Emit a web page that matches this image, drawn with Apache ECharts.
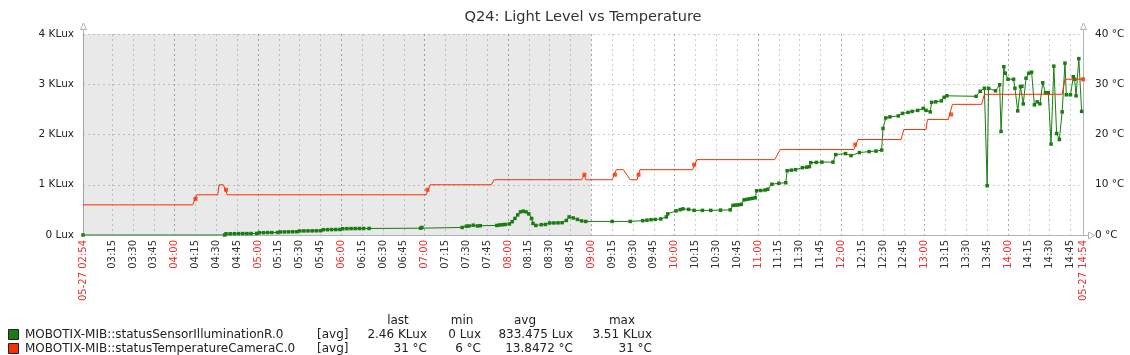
<!DOCTYPE html>
<html><head><meta charset="utf-8">
<script src="https://cdn.jsdelivr.net/npm/echarts@6/dist/echarts.min.js"></script>
<style>html,body{margin:0;padding:0;background:#fff}#c{width:1130px;height:355px}</style>
</head><body><div id="c"></div>
<script>
const chartTitle = 'Q24: Light Level vs Temperature';
const rangeStart = '02:54';
const rangeEnd = '14:54';
const startLabel = '05-27 02:54';
const endLabel = '05-27 14:54';
const shadeStart = '02:54';
const shadeEnd = '09:00';

const tickTimes = ['02:54','03:15','03:30','03:45','04:00','04:15','04:30','04:45','05:00','05:15','05:30','05:45',
  '06:00','06:15','06:30','06:45','07:00','07:15','07:30','07:45','08:00','08:15','08:30','08:45',
  '09:00','09:15','09:30','09:45','10:00','10:15','10:30','10:45','11:00','11:15','11:30','11:45',
  '12:00','12:15','12:30','12:45','13:00','13:15','13:30','13:45','14:00','14:15','14:30','14:45','14:54'];

const luxTicks = [0, 1000, 2000, 3000, 4000];
const tempTicks = [0, 10, 20, 30, 40];

// Illumination (Lux)
const lightData = [['02:54',0],['04:36',0],['04:37',25],['04:40',25],['04:43',26],['04:46',27],['04:49',28],['04:52',28],
  ['04:55',29],['04:59',30],['05:01',45],['05:04',46],['05:07',48],['05:10',49],['05:14',50],['05:16',60],['05:19',61],
  ['05:22',62],['05:25',64],['05:28',65],['05:30',80],['05:33',81],['05:36',82],['05:39',83],['05:42',84],['05:45',85],
  ['05:47',105],['05:50',106],['05:53',108],['05:56',109],['05:59',110],['06:01',125],['06:04',126],['06:07',127],
  ['06:10',128],['06:13',129],['06:16',130],['06:20',130],['06:57',135],['06:58',150],
  ['07:27',150],['07:30',175],['07:32',180],['07:35',195],['07:38',180],['07:40',185],['07:52',190],['07:54',200],['07:56',205],['07:58',210],['08:01',220],
  ['08:03',265],['08:05',330],['08:07',400],['08:09',460],['08:11',475],['08:13',460],['08:15',420],['08:17',330],
  ['08:18',230],['08:20',190],['08:24',205],['08:27',210],['08:30',240],['08:33',240],['08:36',242],['08:39',245],['08:42',290],['08:44',360],
  ['08:47',340],['08:50',310],['08:53',280],['08:56',270],['09:15',270],['09:28',270],['09:37',285],['09:40',295],
  ['09:43',305],['09:46',310],['09:50',320],['09:54',360],['09:55',420],['10:01',480],['10:04',505],['10:06',520],['10:10',510],['10:14',490],
  ['10:20',490],['10:26',490],['10:33',495],['10:40',500],['10:42',590],['10:44',595],['10:46',600],['10:48',610],['10:50',700],
  ['10:52',710],['10:54',720],['10:56',730],['10:58',740],['10:59',880],['11:02',885],['11:05',895],['11:07',910],
  ['11:10',1010],['11:15',1030],['11:20',1040],['11:21',1280],['11:24',1290],['11:27',1300],['11:32',1340],['11:35',1350],['11:37',1360],['11:38',1440],
  ['11:42',1445],['11:46',1450],['11:54',1450],
  ['11:56',1600],['12:03',1620],['12:07',1580],['12:13',1640],['12:20',1660],['12:25',1670],['12:29',1690],['12:30',2120],['12:32',2330],
  ['12:35',2350],['12:41',2370],['12:44',2420],['12:48',2440],['12:51',2460],['12:55',2480],['12:59',2520],['13:01',2480],['13:04',2450],['13:05',2640],
  ['13:08',2650],['13:12',2670],['13:14',2740],['13:16',2770],['13:37',2760],['13:40',2860],['13:43',2920],['13:45',980],
  ['13:46',2920],['13:51',2870],['13:54',2990],['13:55',2060],['13:57',3350],['13:58',3220],['14:00',3100],['14:04',3100],
  ['14:05',2920],['14:07',2470],['14:09',2950],['14:10',2960],['14:11',2610],['14:13',3120],['14:15',3220],['14:17',3240],
  ['14:19',2590],['14:21',2650],['14:23',2610],['14:25',3030],['14:27',2830],['14:29',2830],['14:31',1810],['14:33',3360],
  ['14:35',2020],['14:37',1900],['14:39',2450],['14:41',3420],['14:42',2790],['14:45',2790],['14:47',3150],['14:48',3100],
  ['14:49',2770],['14:51',3510],['14:53',2460]];

// Camera temperature (°C)
const tempData = [['02:54',6],['04:13',6],['04:16',8],['04:31',8],['04:32',10],['04:35',10],['04:38',8],['07:01',8],
  ['07:04',10],['07:48',10],['07:50',11],['08:53',11],['08:55',12],['08:56',11],['09:15',11],['09:18',13],['09:23',13],
  ['09:28',11],['09:33',11],['09:35',13],['10:13',13],['10:16',15],['11:12',15],['11:16',17],['12:09',17],['12:12',19],
  ['12:43',19],['12:45',21],['13:01',21],['13:02',23],['13:17',23],['13:20',26],['13:41',26],['13:43',28],['14:39',28],
  ['14:41',31],['14:54',31]];
const tempMarks = [['04:15',7.2],['04:37',9],['07:02',9],['08:55',12],['09:17',12],['09:34',12],['10:14',14],
  ['12:10',18],['13:19',24],['14:54',31]];

const legendNames = ['MOBOTIX-MIB::statusSensorIlluminationR.0', 'MOBOTIX-MIB::statusTemperatureCameraC.0'];
const legendFunc = ['[avg]', '[avg]'];
const legendHeads = ['last', 'min', 'avg', 'max'];
const legendLast = ['2.46 KLux', '31 °C'];
const legendMin = ['0 Lux', '6 °C'];
const legendAvg = ['833.475 Lux', '13.8472 °C'];
const legendMax = ['3.51 KLux', '31 °C'];

const GREEN = '#1A7C11', RED = '#F63100', AXIS = '#a9b4bd', GRID = '#c8d0d6', HOUR = '#a3adb5';
const FONT = 'DejaVu Sans';

const toMin = s => { const p = s.split(':').map(Number); return p[0] * 60 + p[1]; };
const fmt = m => String(Math.floor(m / 60)).padStart(2, '0') + ':' + String(m % 60).padStart(2, '0');
const xMin = toMin(rangeStart), xMax = toMin(rangeEnd);
const tickVals = tickTimes.map(toMin);
const isRed = v => v === xMin || v === xMax || v % 60 === 0;

const chart = echarts.init(document.getElementById('c'), null, { renderer: 'canvas' });

const LFONT = '12px ' + FONT;
const colX = [427, 481, 573, 652];
const headX = [398, 462, 525, 622];
const rowY = [335, 349];
const graphics = [
  { type: 'polyline', shape: { points: [[83.5, 29], [83.5, 34]] }, style: { stroke: AXIS, lineWidth: 1 }, silent: true },
  { type: 'polygon', shape: { points: [[83.5, 23], [80.5, 29.5], [86.5, 29.5]] }, style: { fill: '#fff', stroke: AXIS, lineWidth: 1 }, silent: true },
  { type: 'polyline', shape: { points: [[1083.5, 29], [1083.5, 34]] }, style: { stroke: AXIS, lineWidth: 1 }, silent: true },
  { type: 'polygon', shape: { points: [[1083.5, 23], [1080.5, 29.5], [1086.5, 29.5]] }, style: { fill: '#fff', stroke: AXIS, lineWidth: 1 }, silent: true },
  { type: 'polyline', shape: { points: [[1083, 235.5], [1088, 235.5]] }, style: { stroke: AXIS, lineWidth: 1 }, silent: true },
  { type: 'polygon', shape: { points: [[1094.5, 235.5], [1088.5, 232], [1088.5, 239]] }, style: { fill: '#fff', stroke: AXIS, lineWidth: 1 }, silent: true },
  { type: 'text', x: 583, y: 17, style: { text: chartTitle, fill: '#333', font: '14.6px ' + FONT, textAlign: 'center', textVerticalAlign: 'middle' } }
];
legendHeads.forEach((h, i) => graphics.push({ type: 'text', x: headX[i], y: 321, style: { text: h, fill: '#222', font: LFONT, textAlign: 'center', textVerticalAlign: 'middle' } }));
[GREEN, RED].forEach((c, r) => {
  graphics.push({ type: 'rect', shape: { x: 8.5, y: rowY[r] - 5.5, width: 10, height: 10 }, style: { fill: c, stroke: '#222', lineWidth: 1 } });
  graphics.push({ type: 'text', x: 25, y: rowY[r], style: { text: legendNames[r], fill: '#222', font: LFONT, textVerticalAlign: 'middle' } });
  graphics.push({ type: 'text', x: 317, y: rowY[r], style: { text: legendFunc[r], fill: '#222', font: LFONT, textVerticalAlign: 'middle' } });
  [legendLast, legendMin, legendAvg, legendMax].forEach((arr, i) => graphics.push({ type: 'text', x: colX[i], y: rowY[r], style: { text: arr[r], fill: '#222', font: LFONT, textAlign: 'right', textVerticalAlign: 'middle' } }));
});

const option = {
  animation: false,
  backgroundColor: '#fff',
  textStyle: { fontFamily: FONT },
  grid: { left: 83, right: 47, top: 34, bottom: 120 },
  xAxis: {
    type: 'value', min: xMin, max: xMax,
    axisLine: { show: true, lineStyle: { color: AXIS } },
    axisTick: { show: false, customValues: tickVals },
    axisLabel: {
      customValues: tickVals, rotate: 90, margin: 5, fontSize: 10, fontFamily: FONT,
      formatter: v => (v === xMin ? startLabel : v === xMax ? endLabel : fmt(v)),
      color: v => (isRed(Number(v)) ? '#e8312e' : '#333')
    },
    splitLine: { show: true, lineStyle: { type: [2, 3], color: [HOUR, GRID, GRID, GRID], width: 1 } }
  },
  yAxis: [
    {
      type: 'value', min: luxTicks[0], max: luxTicks[luxTicks.length - 1], interval: luxTicks[1] - luxTicks[0], position: 'left',
      axisLine: { show: true, lineStyle: { color: AXIS } }, axisTick: { show: false },
      axisLabel: { margin: 9, fontSize: 10.5, color: '#222', fontFamily: FONT, formatter: v => (v === 0 ? '0 Lux' : (v / 1000) + ' KLux') },
      splitLine: { show: true, lineStyle: { type: [2, 3], color: GRID } }
    },
    {
      type: 'value', min: tempTicks[0], max: tempTicks[tempTicks.length - 1], interval: tempTicks[1] - tempTicks[0], position: 'right',
      axisLine: { show: true, lineStyle: { color: AXIS } }, axisTick: { show: false },
      axisLabel: { margin: 12, fontSize: 10.5, color: '#222', fontFamily: FONT, formatter: v => v + ' °C' },
      splitLine: { show: false }
    }
  ],
  series: [
    {
      name: legendNames[0], type: 'line', yAxisIndex: 0,
      data: lightData.map(d => [toMin(d[0]), d[1]]),
      symbol: 'rect', symbolSize: 3.5, showSymbol: true, showAllSymbol: true,
      lineStyle: { color: GREEN, width: 1 }, itemStyle: { color: GREEN },
      markArea: { silent: true, itemStyle: { color: 'rgba(0,0,0,0.085)' }, data: [[{ xAxis: toMin(shadeStart) }, { xAxis: toMin(shadeEnd) }]] },
      z: 2
    },
    {
      name: legendNames[1], type: 'line', yAxisIndex: 1,
      data: tempData.map(d => [toMin(d[0]), d[1]]),
      symbol: 'none', lineStyle: { color: RED, width: 1 }, itemStyle: { color: RED }, z: 3
    },
    {
      type: 'scatter', yAxisIndex: 1, data: tempMarks.map(d => [toMin(d[0]), d[1]]),
      symbol: 'rect', symbolSize: 4, itemStyle: { color: RED }, z: 4
    }
  ],
  graphic: graphics
};
chart.setOption(option);
</script></body></html>
